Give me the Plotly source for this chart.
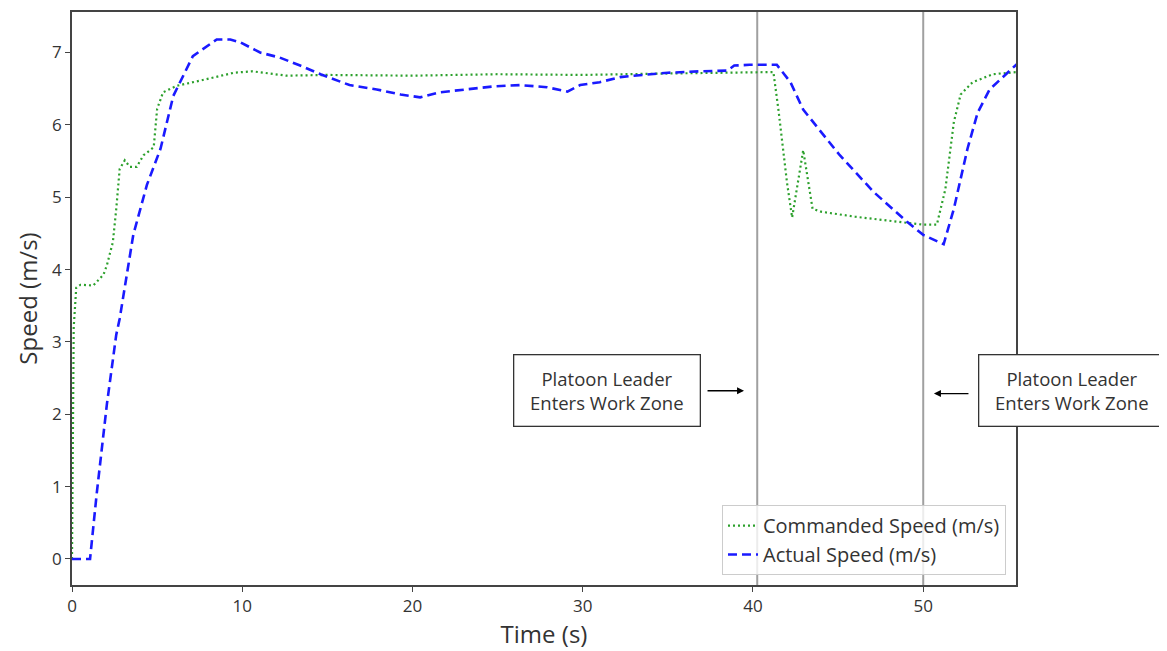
import plotly.graph_objects as go

# Commanded speed (green dotted)
cmd_t = [0, 0.1, 0.25, 0.5, 1.25, 1.85, 2.05, 2.4, 2.6, 2.8, 3.1, 3.4, 3.8, 4.2, 4.8, 5.0, 5.35,
         6.15, 7.5, 9.5, 10.6, 12.6, 15.0, 20.0, 25.0, 30.0, 35.0, 38.0, 41.2, 41.5, 42.0, 42.3,
         42.95, 43.5, 44.0, 46.0, 48.0, 50.0, 50.8, 51.3, 51.8, 52.2, 52.9, 54.1, 55.5]
cmd_v = [0, 3.2, 3.75, 3.79, 3.78, 3.93, 4.06, 4.38, 4.84, 5.39, 5.51, 5.42, 5.42, 5.58, 5.69, 6.22, 6.45,
         6.54, 6.61, 6.72, 6.74, 6.68, 6.69, 6.68, 6.70, 6.69, 6.71, 6.72, 6.73, 6.2, 5.2, 4.72,
         5.65, 4.84, 4.8, 4.73, 4.68, 4.62, 4.62, 5.11, 6.04, 6.42, 6.59, 6.70, 6.73]

# Actual speed (blue dashed)
act_t = [0, 1.06, 1.45, 2.05, 2.6, 2.8, 3.6, 4.4, 5.2, 5.95, 7.1, 8.5, 9.3, 9.9, 11.05, 12.2, 13.4,
         14.6, 16.3, 17.9, 19.3, 20.45, 21.6, 23.2, 24.7, 26.3, 27.9, 29.1, 29.85, 31.0, 32.2, 33.0,
         35.0, 36.9, 38.5, 38.9, 39.8, 41.4, 42.2, 42.95, 45.1, 47.1, 49.05, 50.0, 51.2, 51.8, 52.6,
         53.2, 53.9, 55.5]
act_v = [0, 0, 0.9, 2.14, 3.1, 3.32, 4.48, 5.17, 5.67, 6.4, 6.95, 7.18, 7.18, 7.14, 7.0, 6.93, 6.82,
         6.7, 6.55, 6.49, 6.42, 6.38, 6.45, 6.49, 6.53, 6.55, 6.52, 6.46, 6.55, 6.59, 6.66, 6.68,
         6.72, 6.74, 6.75, 6.82, 6.83, 6.83, 6.59, 6.21, 5.58, 5.07, 4.66, 4.48, 4.35, 4.84, 5.67,
         6.17, 6.49, 6.84]

event_times = [40.25, 50.0]
x_ticks = [0, 10, 20, 30, 40, 50]
y_ticks = [0, 1, 2, 3, 4, 5, 6, 7]
event_label = "Platoon Leader<br>Enters Work Zone"

FONT = "Open Sans, DejaVu Sans, sans-serif"

fig = go.Figure()
fig.add_trace(go.Scatter(x=cmd_t, y=cmd_v, mode="lines", name="Commanded Speed (m/s)",
                         line=dict(color="#2ca02c", width=2.2, dash="2px,3px")))
fig.add_trace(go.Scatter(x=act_t, y=act_v, mode="lines", name="Actual Speed (m/s)",
                         line=dict(color="#1a1aff", width=2.6, dash="9px,5px")))

for t in event_times:
    fig.add_shape(type="line", x0=t, x1=t, y0=0, y1=1, xref="x", yref="paper",
                  line=dict(color="#a0a0a0", width=2), layer="below")

box_font = dict(family=FONT, size=18.5, color="#333333")
for bx in [0.5667, 1.0593]:
    fig.add_annotation(x=bx, y=0.339, xref="paper", yref="paper", text=event_label,
                       xanchor="center", yanchor="middle",
                       showarrow=False, font=box_font, bordercolor="#333333", borderwidth=1.3,
                       bgcolor="white", width=183, height=68, align="center")
fig.add_annotation(x=0.7119, y=0.339, xref="paper", yref="paper", text="", showarrow=True,
                   ax=-38, ay=0, arrowhead=2, arrowsize=1, arrowwidth=1.4, arrowcolor="black")
fig.add_annotation(x=0.9131, y=0.334, xref="paper", yref="paper", text="", showarrow=True,
                   ax=36, ay=0, arrowhead=2, arrowsize=1, arrowwidth=1.4, arrowcolor="black")

axis_common = dict(showline=True, mirror=True, linecolor="#444444", linewidth=1.5,
                   ticks="outside", ticklen=5, tickcolor="#444444", showgrid=False, zeroline=False,
                   tickfont=dict(family=FONT, size=17, color="#333333"))
fig.update_xaxes(range=[0, 55.45], tickvals=x_ticks,
                 title=dict(text="Time (s)", font=dict(family=FONT, size=24, color="#333333"), standoff=4),
                 **axis_common)
fig.update_yaxes(range=[-0.36, 7.56], tickvals=y_ticks,
                 title=dict(text="Speed (m/s)", font=dict(family=FONT, size=24, color="#333333"), standoff=8),
                 **axis_common)

fig.update_layout(
    width=1167, height=651, autosize=False,
    margin=dict(l=64, r=159, t=2, b=74),
    plot_bgcolor="white", paper_bgcolor="white",
    legend=dict(x=0.9894, y=0.0174, xanchor="right", yanchor="bottom",
                bgcolor="rgba(255,255,255,0.8)", bordercolor="#cccccc", borderwidth=1,
                font=dict(family=FONT, size=20, color="#333333"),
                tracegroupgap=0),
    showlegend=True,
)

fig.write_html("out.html")
